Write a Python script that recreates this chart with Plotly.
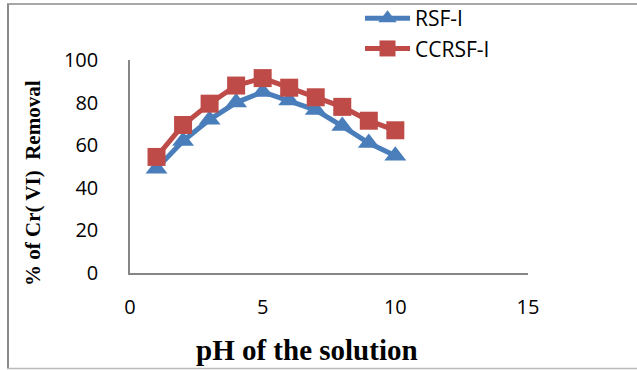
import plotly.graph_objects as go

ph = [1, 2, 3, 4, 5, 6, 7, 8, 9, 10]
rsf_i = [49, 62, 72, 80, 85, 81, 76.5, 69, 61, 55]
ccrsf_i = [54.5, 69.5, 79.5, 88, 91.5, 87, 82.5, 78, 71.5, 67]
series_names = ["RSF-I", "CCRSF-I"]
x_title = "pH of the solution"
y_title = "% of Cr( VI)  Removal"

W, H = 637, 370
L, R, T, B = 130, 109, 60, 97
pw, ph_ = W - L - R, H - T - B

def px(x):
    return (x - L) / pw

def py(y):
    return (H - B - y) / ph_

blue = "#4A7EBB"
red = "#BE4B48"

fig = go.Figure()
fig.add_trace(go.Scatter(x=ph, y=rsf_i, name=series_names[0], mode="lines+markers",
                         line=dict(color=blue, width=5),
                         marker=dict(symbol="triangle-up", size=19, color=blue)))
fig.add_trace(go.Scatter(x=ph, y=ccrsf_i, name=series_names[1], mode="lines+markers",
                         line=dict(color=red, width=5),
                         marker=dict(symbol="square", size=18, color=red)))

tickfont = dict(family="Open Sans", size=20, color="#000")
fig.update_layout(
    width=W, height=H, margin=dict(l=L, r=R, t=T, b=B, autoexpand=False),
    paper_bgcolor="white", plot_bgcolor="white",
    showlegend=True,
    legend=dict(x=px(360), y=py(-2), xanchor="left", yanchor="top",
                font=dict(family="Open Sans", size=21, color="#000"),
                bgcolor="rgba(0,0,0,0)", tracegroupgap=0, itemwidth=45),
    xaxis=dict(range=[0, 15], dtick=5, tick0=0, showgrid=False, zeroline=False,
               showline=True, linecolor="#868686", linewidth=1.5, ticks="",
               tickfont=tickfont, ticklabelstandoff=15),
    yaxis=dict(range=[0, 100], dtick=20, tick0=0, showgrid=False, zeroline=False,
               showline=True, linecolor="#868686", linewidth=1.5, ticks="",
               tickfont=tickfont, ticklabelstandoff=26),
)

fig.add_annotation(text="<b>" + x_title + "</b>", xref="paper", yref="paper",
                   x=px(307), y=py(350), xanchor="center", yanchor="middle", showarrow=False,
                   font=dict(family="Liberation Serif", size=29, color="#000"))
fig.add_annotation(text="<b>" + y_title + "</b>", xref="paper", yref="paper",
                   x=px(33), y=py(183), xanchor="center", yanchor="middle",
                   showarrow=False, textangle=-90,
                   font=dict(family="Liberation Serif", size=21, color="#000"))

# outer frame
fig.add_shape(type="line", xref="paper", yref="paper", x0=px(7), x1=px(640), y0=py(4), y1=py(4),
              line=dict(color="#8a8a8a", width=1.5))
fig.add_shape(type="line", xref="paper", yref="paper", x0=px(8), x1=px(8), y0=py(4), y1=py(369),
              line=dict(color="#8a8a8a", width=2))
fig.add_shape(type="line", xref="paper", yref="paper", x0=px(7), x1=px(640), y0=py(368.5), y1=py(368.5),
              line=dict(color="#bbbbbb", width=1.5))

fig.write_html("out.html")
